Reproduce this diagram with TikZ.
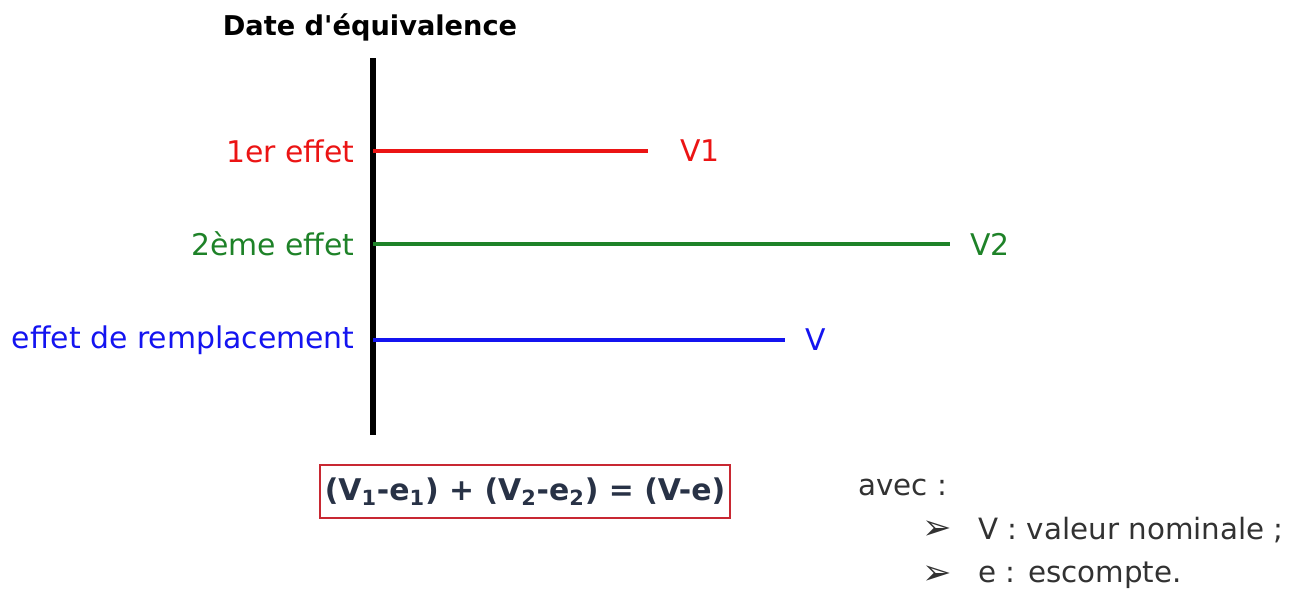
\documentclass[tikz,border=0pt]{standalone}
\usepackage{fontspec}
\setmainfont{DejaVu Sans}
\newfontfamily\symfont{DejaVu Sans}
\definecolor{myred}{RGB}{235,20,20}
\definecolor{mygreen}{RGB}{30,130,40}
\definecolor{myblue}{RGB}{20,20,240}
\definecolor{formula}{RGB}{40,50,70}
\definecolor{boxred}{RGB}{200,40,50}
\definecolor{note}{RGB}{50,50,50}
\begin{document}
\begin{tikzpicture}[x=0.02cm,y=-0.02cm,
  lbl/.style={anchor=east,font=\fontsize{17}{19}\selectfont,inner sep=0pt},
  val/.style={anchor=west,font=\fontsize{17}{19}\selectfont,inner sep=0pt},
  effline/.style={line width=2.8pt},
  note/.style={anchor=west,text=note,font=\fontsize{16.7}{19}\selectfont,inner sep=0pt}]
\useasboundingbox (0,0) rectangle (1289,593);
\node[font=\bfseries\fontsize{15.5}{18}\selectfont,inner sep=0pt] (title) at (370,27) {Date d\textquotesingle équivalence};
\coordinate (top) at (373,58);
\coordinate (bot) at (373,435);
\draw[line width=3.4pt] (top) -- (bot);
% red
\coordinate (r0) at (373,151);
\coordinate (r1) at (648,151);
\draw[effline,myred] (r0) -- (r1);
\node[lbl,text=myred] (l1) at (355,151) {1er effet};
\node[val,text=myred] (v1) at (680,151) {V1};
% green
\coordinate (g0) at (373,244);
\coordinate (g1) at (950,244);
\draw[effline,mygreen] (g0) -- (g1);
\node[lbl,text=mygreen] (l2) at (355,244) {2ème effet};
\node[val,text=mygreen] (v2) at (970,244) {V2};
% blue
\coordinate (b0) at (373,340);
\coordinate (b1) at (785,340);
\draw[effline,myblue] (b0) -- (b1);
\node[lbl,text=myblue] (l3) at (355,340) {effet de remplacement};
\node[val,text=myblue] (v3) at (805,340) {V};
% formula
\draw[boxred,line width=0.7pt] (320,465) rectangle (730,518);
\node[text=formula,font=\bfseries\fontsize{17}{19}\selectfont,inner sep=0pt] (eq) at (525,492) {(V\textsubscript{1}-e\textsubscript{1}) + (V\textsubscript{2}-e\textsubscript{2}) = (V-e)};
% notes
\node[note] (avec) at (858,487) {avec :};
\node[note,font=\fontsize{20}{22}\selectfont] (bul1) at (922,530) {\symfont ➢};
\node[note,font=\fontsize{20}{22}\selectfont] (bul2) at (922,575) {\symfont ➢};
\node[note] (n1) at (978,530) {V : valeur nominale ;};
\node[note] (n2) at (978,575) {e : escompte.};
\end{tikzpicture}
\end{document}
